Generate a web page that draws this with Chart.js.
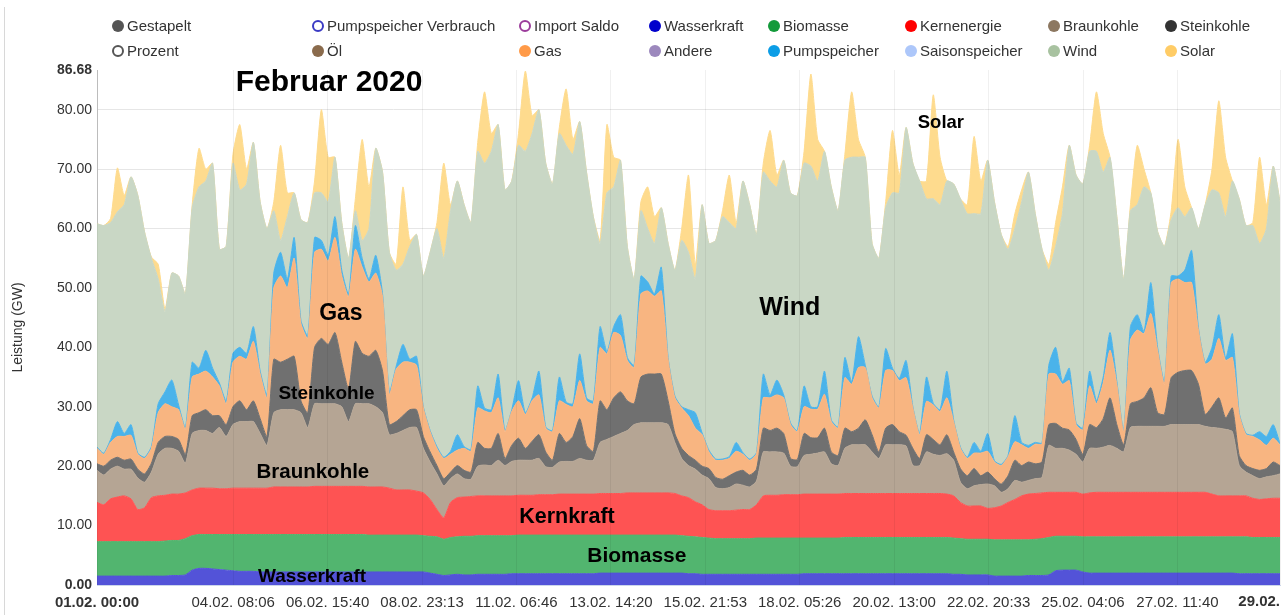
<!DOCTYPE html>
<html>
<head>
<meta charset="utf-8">
<title>Februar 2020</title>
<script src="https://cdn.jsdelivr.net/npm/chart.js@4.4.1/dist/chart.umd.min.js"></script>
<style>
  html, body { margin: 0; padding: 0; background: #fff; }
  #wrap { position: relative; width: 1287px; height: 615px; overflow: hidden; font-family: "Liberation Sans", Arial, sans-serif; }
  #chart { position: absolute; left: 0; top: 0; }
  #frame { position: absolute; left: 4px; top: 7px; width: 1px; height: 608px; background: #d8d8d8; }
  .item { position: absolute; font-size: 15px; line-height: 16px; color: #333; white-space: nowrap; }
  .dot { position: absolute; left: -15px; top: 2px; width: 12px; height: 12px; border-radius: 50%; box-sizing: border-box; }
</style>
</head>
<body>
<div id="wrap">
  <canvas id="chart" width="1287" height="615"></canvas>
  <div id="frame"></div>
  <div id="legend"></div>
</div>
<script>
const fontFamily = "'Liberation Sans', Arial, Helvetica, sans-serif";

// one value every 4 hours, 01.02. 00:00 to 01.03. 00:00 (GW)
const hoursPerStep = 4;

const wasserkraft = [
  1.5,1.5,1.5,1.5,1.5,1.5, 1.5,1.5,1.5,1.5,1.5,1.6, 1.6,1.7,2.5,2.8,2.8,2.7, 2.6,2.5,2.4,2.3,2.3,2.3,
  2.2,2.2,2.2,2.2,2.2,2.2, 2.2,2.2,2.2,2.2,2.2,2.2, 2.2,2.2,2.2,2.2,2.2,2.2, 2.2,2.2,2.2,2.2,2.2,2.2,
  2.2,2.0,1.8,1.6,1.7,1.8, 1.7,1.7,1.8,1.8,1.8,1.8, 1.8,1.9,1.9,1.9,1.9,1.9, 1.9,1.9,1.9,1.9,1.9,1.9,
  1.9,1.9,2.0,2.0,2.0,2.0, 2.0,2.0,2.0,2.0,2.0,2.0, 2.0,2.0,2.0,1.9,1.9,1.8, 1.8,1.8,1.8,1.8,1.8,1.8,
  1.8,1.8,1.8,1.8,1.8,1.8, 1.8,1.8,1.9,1.9,1.9,1.9, 1.9,1.9,1.9,1.9,1.9,1.9, 1.9,1.9,1.9,1.9,1.9,1.9,
  1.9,1.9,1.9,1.9,1.9,1.9, 1.8,1.8,1.7,1.7,1.7,1.7, 1.5,1.5,1.5,1.5,1.5,1.6, 1.6,1.6,1.7,2.4,2.5,2.5,
  2.5,2.2,2.0,2.0,2.0,2.0, 2.0,2.0,2.0,2.0,2.0,2.0, 2.0,2.0,2.0,2.0,2.0,2.0, 2.0,2.0,2.0,2.0,2.0,2.0,
  1.9,1.9,1.9,1.9,1.9,1.9, 1.9
];
const biomasse = [
  5.8,5.8,5.8,5.8,5.8,5.8, 5.8,5.8,5.8,5.8,5.9,5.9, 5.9,6.1,5.8,5.7,5.7,5.8, 5.9,6.0,6.1,6.2,6.2,6.2,
  6.3,6.3,6.3,6.3,6.3,6.3, 6.3,6.3,6.3,6.3,6.3,6.3, 6.3,6.3,6.3,6.3,6.2,6.2, 6.2,6.2,6.2,6.2,6.2,6.2,
  6.1,6.2,6.3,6.1,6.3,6.3, 6.5,6.5,6.5,6.5,6.5,6.5, 6.5,6.4,6.5,6.5,6.5,6.5, 6.5,6.5,6.5,6.5,6.5,6.5,
  6.5,6.5,6.4,6.4,6.4,6.4, 6.4,6.4,6.4,6.4,6.4,6.4, 6.4,6.4,6.3,6.3,6.2,6.2, 6.1,6.0,6.0,6.0,6.0,6.0,
  6.0,6.1,6.1,6.1,6.1,6.1, 6.1,6.1,6.0,6.0,6.0,6.0, 6.0,6.0,6.1,6.1,6.1,6.1, 6.1,6.1,6.1,6.1,6.1,6.1,
  6.1,6.1,6.1,6.1,6.1,6.1, 6.1,6.0,6.0,6.0,6.0,6.0, 6.1,6.1,6.1,6.1,6.1,6.0, 6.1,6.2,6.3,5.8,5.7,5.7,
  5.7,5.9,6.1,6.1,6.1,6.1, 6.1,6.1,6.1,6.1,6.1,6.1, 6.1,6.1,6.1,6.1,6.1,6.1, 6.1,6.1,6.1,6.1,6.1,6.1,
  6.2,6.2,6.1,6.1,6.1,6.1, 6.1
];
const kernenergie = [
  6.6,6.2,7.2,7.5,7.7,7.2, 5.4,5.7,7.4,7.7,7.7,7.8, 7.8,7.7,7.7,7.8,7.8,7.8, 7.7,7.7,7.8,7.8,7.8,7.8,
  7.8,7.8,8.0,8.0,8.0,8.0, 8.0,8.0,8.1,8.1,8.1,8.1, 8.1,8.1,8.1,8.1,8.1,8.1, 8.1,7.9,7.6,7.6,7.6,7.4,
  7.2,6.2,4.6,3.6,5.9,6.6, 6.6,6.7,6.7,6.7,6.7,6.7, 6.7,6.7,6.7,6.7,6.7,6.8, 6.8,6.8,6.9,6.9,6.9,6.9,
  6.9,6.9,7.0,7.0,7.0,7.0, 7.1,7.1,7.1,7.1,7.1,7.1, 7.1,7.0,6.7,6.5,5.9,5.5, 4.8,4.7,4.7,4.7,4.8,4.9,
  4.9,5.6,7.1,7.2,7.2,7.3, 7.3,7.3,7.4,7.4,7.4,7.4, 7.4,7.4,7.4,7.4,7.4,7.4, 7.4,7.4,7.4,7.4,7.4,7.4,
  7.4,7.4,7.4,7.4,7.4,7.3, 7.1,6.1,5.6,5.6,5.6,5.2, 5.4,5.7,6.3,6.8,7.4,7.7, 7.7,7.7,7.6,7.4,7.4,7.4,
  7.4,7.2,7.4,7.5,7.5,7.5, 7.5,7.5,7.5,7.5,7.5,7.5, 7.5,7.5,7.5,7.5,7.5,7.5, 7.5,7.5,7.2,6.9,6.9,6.9,
  6.9,6.9,6.6,6.4,6.5,6.6, 6.6
];
const braunkohle = [
  5.4,5.0,5.0,5.2,4.5,5.0, 5.3,4.3,4.3,7.0,7.9,7.7, 7.2,5.0,9.5,9.7,9.7,9.2, 10.3,8.8,10.7,11.2,11.2,11.2,
  9.2,7.2,12.5,13.0,13.0,13.0, 12.5,10.0,13.9,13.9,13.9,13.9, 13.4,10.9,13.9,13.9,14.0,13.5, 12.5,9.0,9.5,10.0,10.5,10.7,
  7.5,6.3,6.0,5.4,4.0,4.0, 3.1,2.9,5.0,5.2,5.1,6.0, 5.1,5.8,5.9,5.9,5.9,6.1, 4.7,4.6,5.4,5.5,5.5,6.0,
  5.7,5.7,8.6,9.1,9.6,10.1, 10.5,11.5,11.8,11.8,11.8,11.8, 11.5,8.6,6.3,5.4,5.5,5.0, 5.2,3.9,3.7,3.9,4.4,4.1,
  3.8,4.0,7.4,7.3,7.3,7.0, 4.8,4.7,6.5,6.7,6.9,7.1, 5.1,4.8,7.6,8.2,8.2,8.2, 7.0,5.9,8.2,8.2,8.2,8.0,
  4.7,4.7,7.0,6.6,6.4,6.8, 6.0,3.4,2.9,3.4,3.6,4.1, 3.7,2.3,2.3,3.2,2.3,2.3, 2.5,2.6,7.9,7.4,7.4,7.1,
  6.4,5.4,7.5,7.4,7.6,7.9, 7.4,6.8,10.9,11.1,11.1,11.1, 11.1,11.1,11.4,11.4,11.4,11.4, 11.4,11.1,11.2,11.4,11.2,10.8,
  5.1,4.0,3.8,3.5,3.7,3.8, 4.1
];
const steinkohle = [
  1.1,1.5,1.5,1.5,1.5,1.7, 1.5,1.4,1.5,2.0,2.0,2.0, 2.0,1.5,3.0,3.0,3.5,3.0, 2.0,2.0,3.0,3.5,2.0,3.5,
  2.5,1.5,9.0,8.0,8.5,9.0, 2.0,2.5,9.5,11.0,10.0,12.0, 7.5,5.5,10.5,8.5,8.0,9.5, 7.0,1.7,2.0,2.5,3.0,3.0,
  2.0,1.7,1.4,1.2,1.1,1.4, 1.4,1.2,4.0,2.8,2.9,4.5, 1.2,2.7,3.7,2.0,3.2,4.0, 2.5,1.2,4.8,3.2,4.2,6.7,
  2.5,1.5,7.0,5.0,6.5,7.0, 5.0,3.5,7.7,8.2,8.2,8.2, 4.0,1.5,1.7,1.7,1.5,1.5, 1.7,1.7,1.6,2.0,2.0,2.5,
  2.0,2.0,4.0,3.6,4.0,3.3, 1.3,1.2,3.7,2.8,2.6,4.0, 2.0,1.7,3.4,2.2,2.8,4.2, 2.9,1.1,2.8,3.4,2.2,1.8,
  2.9,1.2,2.9,2.5,1.8,3.2, 1.4,2.3,2.2,2.9,1.5,2.0, 1.2,1.4,2.2,3.4,2.8,3.1, 2.5,2.6,3.5,4.2,3.4,3.4,
  2.5,1.3,4.0,3.5,4.8,8.0, 4.0,1.2,4.0,4.2,4.8,6.5, 2.3,2.0,7.9,8.8,9.1,9.1, 6.8,2.0,3.5,5.1,1.9,4.0,
  1.7,1.1,1.2,1.4,1.4,2.3, 1.4
];
const gas = [
  2.6,2.0,3.0,3.5,4.0,4.0, 2.5,2.6,2.5,5.0,5.5,5.0, 5.0,4.2,6.5,6.5,6.5,6.5, 5.0,3.5,7.5,7.5,8.5,10.0,
  7.5,6.5,12.0,14.5,12.0,16.5, 13.0,12.5,16.0,15.0,14.0,16.0, 14.5,15.5,15.5,14.5,12.5,13.0, 12.5,5.0,8.8,9.0,8.0,7.5,
  4.8,3.4,2.9,3.4,3.0,2.6, 3.7,3.5,5.8,6.3,6.0,6.0, 4.5,5.7,6.3,5.7,6.8,6.7, 4.0,4.8,5.5,6.4,5.0,6.4,
  7.5,8.0,9.0,9.4,11.0,9.5, 6.8,6.1,14.0,14.0,13.1,14.0, 7.0,6.0,6.8,6.7,5.4,5.3, 2.8,2.9,3.2,2.9,3.5,2.7,
  2.5,2.6,5.1,5.5,5.6,6.0, 5.7,4.7,4.5,4.8,4.8,5.7, 5.1,4.6,8.5,8.0,10.2,8.8, 6.2,7.4,9.7,9.1,8.6,9.7,
  6.8,4.0,5.6,5.8,5.6,6.2, 5.1,3.4,2.9,2.6,3.8,3.5, 2.8,3.1,3.2,3.1,3.5,2.3, 3.3,3.0,8.5,8.3,7.4,8.3,
  2.5,4.1,6.5,4.0,6.0,8.0, 6.8,2.2,10.7,12.0,10.8,12.5, 10.5,5.1,16.0,15.7,14.8,14.8, 9.1,8.5,8.0,10.0,9.7,8.5,
  6.9,5.2,5.4,5.1,3.9,4.0, 3.5
];
const pumpspeicher = [
  0.2,0.2,0.5,2.5,0.5,1.8, 0.2,0.2,0.3,1.5,2.0,4.5, 0.8,0.3,2.5,1.0,3.5,1.5, 0.5,0.5,1.5,1.5,1.0,2.5,
  0.5,0.5,2.5,4.0,1.5,3.5, 0.5,0.5,2.5,1.5,1.0,3.5, 1.0,0.5,4.0,1.5,0.5,3.0, 0.5,0.5,0.5,3.0,0.5,1.5,
  0.2,0.2,0.3,0.2,0.5,2.6, 0.3,0.3,3.7,0.5,0.5,4.0, 0.2,0.3,3.4,0.3,0.5,4.0, 0.2,0.2,4.0,0.4,0.5,4.5,
  0.5,0.5,3.5,0.4,1.0,3.5, 0.5,0.4,3.0,1.5,0.4,4.0, 0.3,0.3,0.2,1.0,2.6,0.3, 0.3,0.2,0.2,0.3,1.5,0.3,
  0.2,0.2,4.0,0.5,2.5,0.5, 0.3,0.2,3.5,0.4,0.4,3.9, 0.3,0.2,3.4,0.4,5.2,0.4, 0.3,0.2,3.7,0.4,0.4,2.9,
  0.2,0.2,4.1,0.3,0.3,4.5, 0.3,0.2,0.2,1.8,0.3,3.0, 0.2,0.2,0.2,4.4,0.4,0.5, 0.3,0.2,1.5,4.5,0.4,2.1,
  0.3,0.3,2.5,0.5,1.0,3.0, 0.5,0.2,2.3,2.6,0.4,5.2, 0.5,0.4,1.1,0.5,2.1,5.4, 0.4,0.3,2.0,4.0,0.4,4.0,
  0.3,0.2,0.2,1.4,1.5,2.3, 0.2
];
const wind = [
  37.6,38.3,36.5,35.3,38.5,41.7, 43.4,37.9,31.7,21.0,13.5,18.0, 21.7,22.5,26.0,30.5,28.5,34.5, 22.5,26.0,32.0,26.5,28.5,31.0,
  28.5,28.0,10.5,2.0,10.5,7.5, 17.0,19.0,7.5,8.0,9.0,10.0, 8.0,6.0,2.5,3.0,8.5,18.0, 20.5,23.5,16.2,13.5,19.0,20.5,
  22.0,30.0,36.7,33.5,40.5,42.7, 40.7,38.2,39.5,41.2,43.5,42.0, 40.5,38.5,39.6,44.0,44.5,44.0, 44.4,41.5,41.0,43.2,42.0,39.1,
  38.0,31.0,14.0,26.7,23.5,26.0, 18.7,14.5,11.0,9.0,8.5,10.0, 19.2,21.2,28.0,26.5,22.5,38.4, 34.8,36.8,40.8,39.4,36.0,45.7,
  42.8,36.7,34.0,36.0,32.5,39.5, 38.7,39.5,37.5,40.5,38.0,37.0, 39.2,36.4,33.2,37.8,30.2,35.0, 25.7,25.0,23.7,29.5,31.2,39.2,
  41.0,42.5,30.0,34.4,34.5,32.0, 39.7,41.8,41.0,38.5,40.0,46.0, 43.6,38.7,34.7,31.5,40.5,46.0, 38.5,32.6,16.0,17.0,28.3,37.5,
  41.7,41.1,37.0,42.0,34.5,29.5, 27.7,25.5,19.5,18.5,24.3,15.1, 19.5,22.8,9.5,11.5,9.0,7.2, 16.7,26.5,26.5,20.5,23.8,25.7,
  36.0,35.0,35.3,31.7,35.0,43.5, 40.7
];
const solar = [
  0,0,0.7,7.4,1.6,0, 0,0,0.2,2.5,0.5,0, 0,0,0.5,6.5,2.0,0, 0,0,1.5,11.0,2.5,0,
  0,0,1.5,16.0,4.0,0, 0,0,2.0,14.0,7.5,0, 0,0,2.0,17.0,7.0,0, 0,0,1.0,13.0,1.0,0,
  0,0,1.0,16.0,1.0,0, 0,0,1.5,12.0,3.0,0, 0,0,2.0,13.5,3.0,0, 0,0,1.0,9.5,2.5,0,
  0,0,0.5,11.5,5.0,0, 0,0,1.5,7.0,4.5,0, 0,0,2.0,13.0,2.5,0, 0,0,1.0,8.0,1.0,0,
  0,0,1.5,8.5,2.0,0, 0,0,2.0,15.5,7.0,0, 0,0,1.0,11.0,3.0,0, 0,0,1.0,10.5,3.0,0,
  0,0,3.0,17.5,8.0,0, 0,0,1.5,13.0,5.5,0, 0,0,0.5,2.5,2.0,0, 0,0,1.0,4.0,4.5,0,
  0,0,1.0,10.0,6.5,0, 0,0,1.0,10.0,3.0,0, 0,0,1.5,11.5,5.0,0, 0,0,3.5,15.5,10.0,0,
  0,0,0.5,14.5,4.0,0, 0
];

const xTickLabels = ['01.02. 00:00', '04.02. 08:06', '06.02. 15:40', '08.02. 23:13', '11.02. 06:46',
  '13.02. 14:20', '15.02. 21:53', '18.02. 05:26', '20.02. 13:00', '22.02. 20:33',
  '25.02. 04:06', '27.02. 11:40', '29.02.'];
const yTicks = [0, 10, 20, 30, 40, 50, 60, 70, 80, 86.68];

const series = [
  { label: 'Wasserkraft', data: wasserkraft, color: '#5353d8' },
  { label: 'Biomasse', data: biomasse, color: '#52b56f' },
  { label: 'Kernenergie', data: kernenergie, color: '#fe5353' },
  { label: 'Braunkohle', data: braunkohle, color: '#b5a594' },
  { label: 'Steinkohle', data: steinkohle, color: '#707070' },
  { label: 'Gas', data: gas, color: '#f8b581' },
  { label: 'Pumpspeicher', data: pumpspeicher, color: '#4ab3ea' },
  { label: 'Wind', data: wind, color: '#c9d7c5' },
  { label: 'Solar', data: solar, color: '#fedb8e' }
];

const legendItems = [
  ['Gestapelt', '#555555', false], ['Prozent', '#555555', true],
  ['Pumpspeicher Verbrauch', '#3b3bc4', true], ['Öl', '#8a6b4c', false],
  ['Import Saldo', '#9b3c9b', true], ['Gas', '#ff9a48', false],
  ['Wasserkraft', '#0000cc', false], ['Andere', '#9c88bd', false],
  ['Biomasse', '#139a3a', false], ['Pumpspeicher', '#0c9de6', false],
  ['Kernenergie', '#ff0000', false], ['Saisonspeicher', '#adc7fa', false],
  ['Braunkohle', '#8c7760', false], ['Wind', '#a8c2a0', false],
  ['Steinkohle', '#333333', false], ['Solar', '#ffcc66', false]
];
const legendCols = [127, 327, 534, 664, 783, 920, 1063, 1180];
const legendRows = [18, 43];

const notes = [
  { text: 'Februar 2020', h: 136.5, v: 84.5, size: 30 },
  { text: 'Solar', h: 496.5, v: 77.8, size: 18.5 },
  { text: 'Wind', h: 407.6, v: 46.6, size: 25 },
  { text: 'Gas', h: 143.5, v: 45.6, size: 23 },
  { text: 'Steinkohle', h: 135, v: 32.2, size: 19 },
  { text: 'Braunkohle', h: 127, v: 19.0, size: 20.5 },
  { text: 'Kernkraft', h: 276.5, v: 11.4, size: 21.5 },
  { text: 'Biomasse', h: 317.6, v: 4.9, size: 21 },
  { text: 'Wasserkraft', h: 126.5, v: 1.35, size: 19 }
];

const xMax = (wasserkraft.length - 1) * hoursPerStep;
const xTickHours = xTickLabels.map(l => {
  const m = l.match(/^(\d+)\.(\d+)\.\s*(?:(\d+):(\d+))?$/);
  if (!m[3]) return xMax;
  return (Number(m[1]) - 1) * 24 + Number(m[3]) + Number(m[4]) / 60;
});

// legend
const legendEl = document.getElementById('legend');
legendItems.forEach(([text, color, open], k) => {
  const item = document.createElement('div');
  item.className = 'item';
  item.style.left = legendCols[Math.floor(k / 2)] + 'px';
  item.style.top = legendRows[k % 2] + 'px';
  const dot = document.createElement('span');
  dot.className = 'dot';
  if (open) {
    dot.style.border = '2px solid ' + color;
    dot.style.background = '#fff';
  } else {
    dot.style.background = color;
  }
  item.appendChild(dot);
  item.appendChild(document.createTextNode(text));
  legendEl.appendChild(item);
});

const notesPlugin = {
  id: 'notes',
  afterDraw(chart) {
    const { ctx, scales: { x, y } } = chart;
    ctx.save();
    ctx.fillStyle = '#000';
    ctx.textAlign = 'center';
    ctx.textBaseline = 'middle';
    notes.forEach(n => {
      ctx.font = 'bold ' + n.size + 'px ' + fontFamily;
      ctx.fillText(n.text, x.getPixelForValue(n.h), y.getPixelForValue(n.v));
    });
    // last x label sits inside the plot, right aligned
    ctx.font = 'bold 15px ' + fontFamily;
    ctx.fillStyle = '#333';
    ctx.textAlign = 'right';
    ctx.fillText(xTickLabels[xTickLabels.length - 1], x.right, x.top + 17);
    ctx.restore();
  }
};

new Chart(document.getElementById('chart'), {
  type: 'line',
  data: {
    datasets: series.map((s, i) => ({
      label: s.label,
      data: s.data.map((v, k) => ({ x: k * hoursPerStep, y: v })),
      backgroundColor: s.color,
      borderColor: s.color,
      borderWidth: 1,
      pointRadius: 0,
      tension: 0.2,
      fill: i === 0 ? 'origin' : '-1'
    }))
  },
  options: {
    responsive: false,
    animation: false,
    layout: { padding: { left: 0, right: 7, top: 70, bottom: 0 } },
    plugins: {
      legend: { display: false },
      tooltip: { enabled: false }
    },
    scales: {
      x: {
        type: 'linear',
        min: 0,
        max: xMax,
        afterBuildTicks: s => { s.ticks = xTickHours.map(v => ({ value: v })); },
        afterFit: s => { s.height = 30; s.paddingLeft = 0; s.paddingRight = 0; },
        ticks: {
          autoSkip: false,
          maxRotation: 0,
          minRotation: 0,
          padding: 9,
          color: '#333',
          font: ctx => ({ family: fontFamily, size: 15, weight: ctx.index === 0 ? 'bold' : 'normal' }),
          callback: (v, i) => (i === xTickLabels.length - 1 ? '' : xTickLabels[i])
        },
        grid: { color: 'rgba(0,0,0,0.06)', drawTicks: false, z: 1 },
        border: { color: '#ccd6eb', z: 1 }
      },
      y: {
        stacked: true,
        min: 0,
        max: 86.68,
        afterBuildTicks: s => { s.ticks = yTicks.map(v => ({ value: v })); },
        afterFit: s => { s.width = 97; },
        ticks: {
          padding: 5,
          color: '#333',
          font: ctx => ({
            family: fontFamily,
            size: 14,
            weight: (ctx.index === 0 || ctx.index === yTicks.length - 1) ? 'bold' : 'normal'
          }),
          callback: v => Number(v).toFixed(2)
        },
        grid: {
          color: ctx => (ctx.index === yTicks.length - 1 ? 'rgba(0,0,0,0)' : '#e6e6e6'),
          drawTicks: false
        },
        border: { color: '#c8c8c8' },
        title: {
          display: true,
          text: 'Leistung (GW)',
          color: '#333',
          font: { family: fontFamily, size: 14 },
          padding: { top: 10, bottom: 0 }
        }
      }
    }
  },
  plugins: [notesPlugin]
});
</script>
</body>
</html>
